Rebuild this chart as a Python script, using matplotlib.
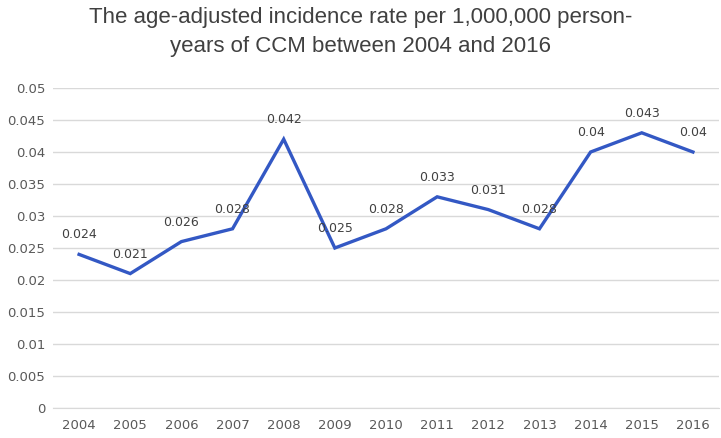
import matplotlib
matplotlib.use("Agg")
import matplotlib.pyplot as plt
from matplotlib import font_manager

years = ["2004", "2005", "2006", "2007", "2008", "2009", "2010",
         "2011", "2012", "2013", "2014", "2015", "2016"]
rates = [0.024, 0.021, 0.026, 0.028, 0.042, 0.025, 0.028,
         0.033, 0.031, 0.028, 0.040, 0.043, 0.040]
rate_labels = ["0.024", "0.021", "0.026", "0.028", "0.042", "0.025", "0.028",
               "0.033", "0.031", "0.028", "0.04", "0.043", "0.04"]
yticks = [0, 0.005, 0.01, 0.015, 0.02, 0.025, 0.03, 0.035, 0.04, 0.045, 0.05]
ytick_labels = ["0", "0.005", "0.01", "0.015", "0.02", "0.025", "0.03",
                "0.035", "0.04", "0.045", "0.05"]
title = "The age-adjusted incidence rate per 1,000,000 person-\nyears of CCM between 2004 and 2016"

plt.rcParams['font.family'] = ['DejaVu Sans']

names = {f.name for f in font_manager.fontManager.ttflist}
title_font = "Liberation Sans Narrow" if "Liberation Sans Narrow" in names else "Liberation Sans"
title_size = 18 if title_font == "Liberation Sans Narrow" else 16

fig = plt.figure(figsize=(7.21, 4.38), dpi=100)
ax = fig.add_axes([53.5/721, 1-408/438, 665/721, 320/438])

x = list(range(len(years)))
ax.plot(x, rates, color="#3358C4", lw=2.4, solid_joinstyle="miter", zorder=3)
for xi, v, lab in zip(x, rates, rate_labels):
    ax.annotate(lab, (xi, v), xytext=(0, 14), textcoords="offset points",
                ha="center", va="center", fontsize=9, color="#404040")

ax.set_xlim(-0.5, len(years) - 0.5)
ax.set_ylim(0, 0.05)
ax.set_yticks(yticks)
ax.set_yticklabels(ytick_labels)
ax.set_xticks(x)
ax.set_xticklabels(years)
ax.tick_params(axis="both", length=0, labelsize=9.5, labelcolor="#595959")
ax.tick_params(axis="y", pad=6)
ax.tick_params(axis="x", pad=8)
ax.grid(axis="y", color="#D9D9D9", lw=1)
ax.set_axisbelow(True)
for s in ["top", "right", "left"]:
    ax.spines[s].set_visible(False)
ax.spines["bottom"].set_color("#D9D9D9")

fig.text(0.5, 1-32/438, title, ha="center", va="center", fontsize=title_size,
         color="#404040", family=title_font, linespacing=1.55)

fig.savefig("out.png", dpi=100)
